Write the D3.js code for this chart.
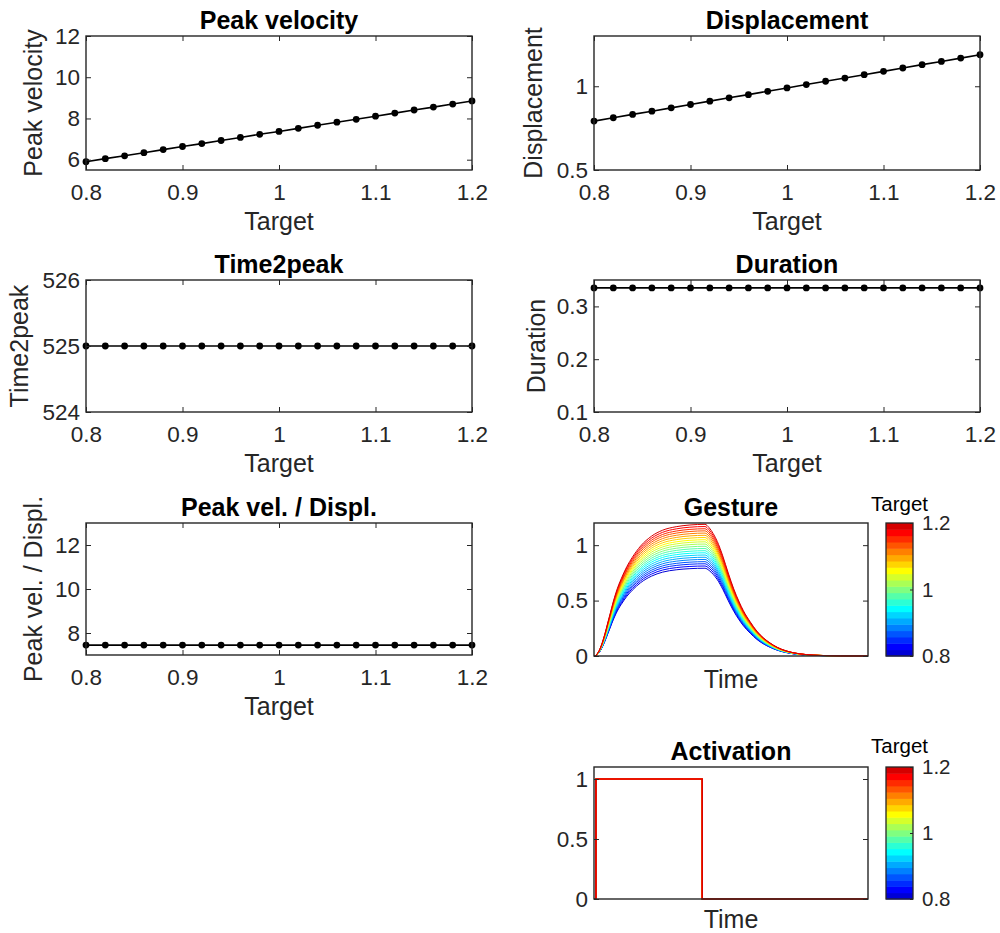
<!DOCTYPE html>
<html><head><meta charset="utf-8">
<script src="https://cdn.jsdelivr.net/npm/d3@7"></script>
<style>
body{margin:0;background:#fff}
text{font-family:"Liberation Sans",Arial,Helvetica,sans-serif}
</style>
</head><body>
<svg id="chart" width="1000" height="933"></svg>
<script>
// ---------------- data ----------------
const targets = [0.80,0.82,0.84,0.86,0.88,0.90,0.92,0.94,0.96,0.98,1.00,1.02,1.04,1.06,1.08,1.10,1.12,1.14,1.16,1.18,1.20];
const peakVelocity = [5.90,6.05,6.19,6.34,6.49,6.64,6.78,6.93,7.08,7.23,7.37,7.52,7.67,7.82,7.96,8.11,8.26,8.41,8.55,8.70,8.85];
const displacement = [0.792,0.812,0.832,0.851,0.871,0.891,0.911,0.931,0.950,0.970,0.990,1.010,1.030,1.049,1.069,1.089,1.109,1.129,1.148,1.168,1.188];
const time2peak = [525,525,525,525,525,525,525,525,525,525,525,525,525,525,525,525,525,525,525,525,525];
const duration = [0.335,0.335,0.335,0.335,0.335,0.335,0.335,0.335,0.335,0.335,0.335,0.335,0.335,0.335,0.335,0.335,0.335,0.335,0.335,0.335,0.335];
const peakVelPerDispl = [7.45,7.45,7.45,7.45,7.45,7.45,7.45,7.45,7.45,7.45,7.45,7.45,7.45,7.45,7.45,7.45,7.45,7.45,7.45,7.45,7.45];

const xTicks = [0.8,0.9,1,1.1,1.2];
const peakVelocityTicks = [6,8,10,12];
const displacementTicks = [0.5,1];
const time2peakTicks = [524,525,526];
const durationTicks = [0.1,0.2,0.3];
const peakVelPerDisplTicks = [8,10,12];
const gestureTicks = [0,0.5,1];
const activationTicks = [0,0.5,1];
const colorbarTicks = [0.8,1,1.2];

// normalized gesture shape (relative to each target's displacement)
const gestureTime = [0,0.005,0.01,0.02,0.03,0.04,0.05,0.06,0.07,0.08,0.09,0.10,0.12,0.14,0.17,0.21,0.25,0.30,0.35,0.405,0.42,0.435,0.45,0.47,0.49,0.51,0.53,0.545,0.57,0.594,0.62,0.642,0.67,0.70,0.75,0.80,0.85,0.90,1.0];
const gestureProfile = [0,0,0.012,0.045,0.10,0.17,0.25,0.33,0.41,0.48,0.54,0.59,0.68,0.75,0.835,0.91,0.955,0.982,0.995,1.0,0.975,0.93,0.87,0.76,0.63,0.51,0.41,0.345,0.26,0.19,0.135,0.10,0.065,0.04,0.017,0.007,0.003,0.001,0];

const activationTime = [0,0.007,0.007,0.395,0.395,1];
const activationValue = [0,0,1,1,0,0];

// ---------------- layout / style ----------------
const AX = "#262626";
const colL = [86,472], colR = [594,980], colG = [594,868];
const rows = [[36,170],[280,412],[523,655],[767,899]];
const cbX = [886,913];

function jet(m){
  const n = Math.ceil(m/4);
  const u = [];
  for(let i=1;i<=n;i++) u.push(i/n);
  for(let i=1;i<n;i++) u.push(1);
  for(let i=n;i>=1;i--) u.push(i/n);
  const off = Math.ceil(n/2) - (m%4===1?1:0);
  const R=new Array(m).fill(0),G=new Array(m).fill(0),B=new Array(m).fill(0);
  u.forEach((v,i)=>{
    const g = off + i + 1, r = g + n, b = g - n;
    if(g>=1&&g<=m) G[g-1]=v;
    if(r>=1&&r<=m) R[r-1]=v;
    if(b>=1&&b<=m) B[b-1]=v;
  });
  return d3.range(m).map(i=>d3.rgb(R[i]*255,G[i]*255,B[i]*255).formatHex());
}
const cmap = jet(targets.length);

const svg = d3.select("#chart");

function fmt(d){ return String(d); }

function frame(g, x, y, xr, yr, yTicks, opts){
  if(opts.xTicks){
    const ax = g.append("g").attr("transform",`translate(0,${yr[1]})`)
      .call(d3.axisBottom(x).tickValues(opts.xTicks).tickSize(-5).tickSizeOuter(0).tickPadding(14).tickFormat(fmt));
    ax.select(".domain").remove();
    ax.selectAll("line").attr("stroke",AX);
    ax.selectAll("text").attr("fill",AX).style("font-size","22.5px");
    const at = g.append("g").attr("transform",`translate(0,${yr[0]})`)
      .call(d3.axisTop(x).tickValues(opts.xTicks).tickSize(-5).tickSizeOuter(0).tickFormat(""));
    at.select(".domain").remove();
    at.selectAll("line").attr("stroke",AX);
  }
  const al = g.append("g").attr("transform",`translate(${xr[0]},0)`)
    .call(d3.axisLeft(y).tickValues(yTicks).tickSize(-5).tickSizeOuter(0).tickPadding(6).tickFormat(fmt));
  al.select(".domain").remove();
  al.selectAll("line").attr("stroke",AX);
  al.selectAll("text").attr("fill",AX).style("font-size","22.5px");
  const ar = g.append("g").attr("transform",`translate(${xr[1]},0)`)
    .call(d3.axisRight(y).tickValues(yTicks).tickSize(-5).tickSizeOuter(0).tickFormat(""));
  ar.select(".domain").remove();
  ar.selectAll("line").attr("stroke",AX);
  g.append("rect").attr("x",xr[0]).attr("y",yr[0]).attr("width",xr[1]-xr[0]).attr("height",yr[1]-yr[0])
    .attr("fill","none").attr("stroke",AX).attr("stroke-width",1.4);
  g.append("text").attr("x",(xr[0]+xr[1])/2).attr("y",yr[0]-7).attr("text-anchor","middle")
    .style("font-size","25px").style("font-weight","bold").attr("fill","#000").text(opts.title);
  g.append("text").attr("x",(xr[0]+xr[1])/2).attr("y",yr[1]+opts.xlabOff).attr("text-anchor","middle")
    .style("font-size","25px").attr("fill",AX).text(opts.xlabel);
  if(opts.ylabel){
    const cx = xr[0]-opts.ylabOff, cy=(yr[0]+yr[1])/2;
    g.append("text").attr("transform",`translate(${cx},${cy}) rotate(-90)`).attr("text-anchor","middle")
      .style("font-size","25px").attr("fill",AX).text(opts.ylabel);
  }
}

function scatterPanel(xr, yr, values, domain, yTicks, title, ylabOff){
  const g = svg.append("g");
  const x = d3.scaleLinear().domain([0.8,1.2]).range(xr);
  const y = d3.scaleLinear().domain(domain).range([yr[1],yr[0]]);
  const pts = targets.map((t,i)=>[t,values[i]]);
  g.append("path").datum(pts).attr("fill","none").attr("stroke","#000").attr("stroke-width",1.6)
    .attr("d",d3.line().x(d=>x(d[0])).y(d=>y(d[1])));
  g.selectAll("circle").data(pts).join("circle").attr("cx",d=>x(d[0])).attr("cy",d=>y(d[1])).attr("r",3.4).attr("fill","#000");
  frame(g,x,y,xr,yr,yTicks,{xTicks:xTicks,title:title,xlabel:"Target",xlabOff:60,ylabel:title,ylabOff:ylabOff});
}

scatterPanel(colL, rows[0], peakVelocity, [5.5,12], peakVelocityTicks, "Peak velocity", 44);
scatterPanel(colR, rows[0], displacement, [0.5,1.3], displacementTicks, "Displacement", 52);
scatterPanel(colL, rows[1], time2peak, [524,526], time2peakTicks, "Time2peak", 58);
scatterPanel(colR, rows[1], duration, [0.1,0.35], durationTicks, "Duration", 49);
scatterPanel(colL, rows[2], peakVelPerDispl, [7,13], peakVelPerDisplTicks, "Peak vel. / Displ.", 44);

function colorbar(yr, titleOff){
  const g = svg.append("g");
  const c = d3.scaleLinear().domain([0.8,1.2]).range([yr[1],yr[0]]);
  const step = 0.4/targets.length;
  g.selectAll("rect.band").data(cmap).join("rect").attr("class","band")
    .attr("x",cbX[0]).attr("width",cbX[1]-cbX[0])
    .attr("y",(d,i)=>c(0.8+(i+1)*step)).attr("height",(d,i)=>c(0.8+i*step)-c(0.8+(i+1)*step)+0.5)
    .attr("fill",d=>d);
  g.append("rect").attr("x",cbX[0]).attr("y",yr[0]).attr("width",cbX[1]-cbX[0]).attr("height",yr[1]-yr[0])
    .attr("fill","none").attr("stroke",AX).attr("stroke-width",1.3);
  const ax = g.append("g").attr("transform",`translate(${cbX[1]},0)`)
    .call(d3.axisRight(c).tickValues(colorbarTicks).tickSize(-3).tickSizeOuter(0).tickPadding(9).tickFormat(fmt));
  ax.select(".domain").remove();
  ax.selectAll("line").attr("stroke",AX);
  ax.selectAll("text").attr("fill",AX).style("font-size","20.5px");
  g.append("text").attr("x",(cbX[0]+cbX[1])/2).attr("y",yr[0]-titleOff).attr("text-anchor","middle")
    .style("font-size","20.5px").attr("fill","#000").text("Target");
}

// Gesture
(function(){
  const xr = colG, yr = [523,656];
  const g = svg.append("g");
  const x = d3.scaleLinear().domain([0,1]).range(xr);
  const y = d3.scaleLinear().domain([0,1.2]).range([yr[1],yr[0]]);
  const line = d3.line().x(d=>x(d[0])).y(d=>y(d[1])).curve(d3.curveMonotoneX);
  targets.forEach((t,i)=>{
    const pts = gestureTime.map((tt,j)=>[tt, gestureProfile[j]*displacement[i]]);
    g.append("path").datum(pts).attr("fill","none").attr("stroke",cmap[i]).attr("stroke-width",1).attr("d",line);
  });
  frame(g,x,y,xr,yr,gestureTicks,{title:"Gesture",xlabel:"Time",xlabOff:32});
  colorbar(yr,12);
})();

// Activation
(function(){
  const xr = colG, yr = rows[3];
  const g = svg.append("g");
  const x = d3.scaleLinear().domain([0,1]).range(xr);
  const y = d3.scaleLinear().domain([0,1.1]).range([yr[1],yr[0]]);
  const line = d3.line().x(d=>x(d[0])).y(d=>y(d[1]));
  targets.forEach((t,i)=>{
    const pts = activationTime.map((tt,j)=>[tt, activationValue[j]]);
    g.append("path").datum(pts).attr("fill","none").attr("stroke",cmap[i]).attr("stroke-width",1.2).attr("d",line);
  });
  frame(g,x,y,xr,yr,activationTicks,{title:"Activation",xlabel:"Time",xlabOff:29});
  colorbar(yr,14);
})();
</script>
</body></html>
